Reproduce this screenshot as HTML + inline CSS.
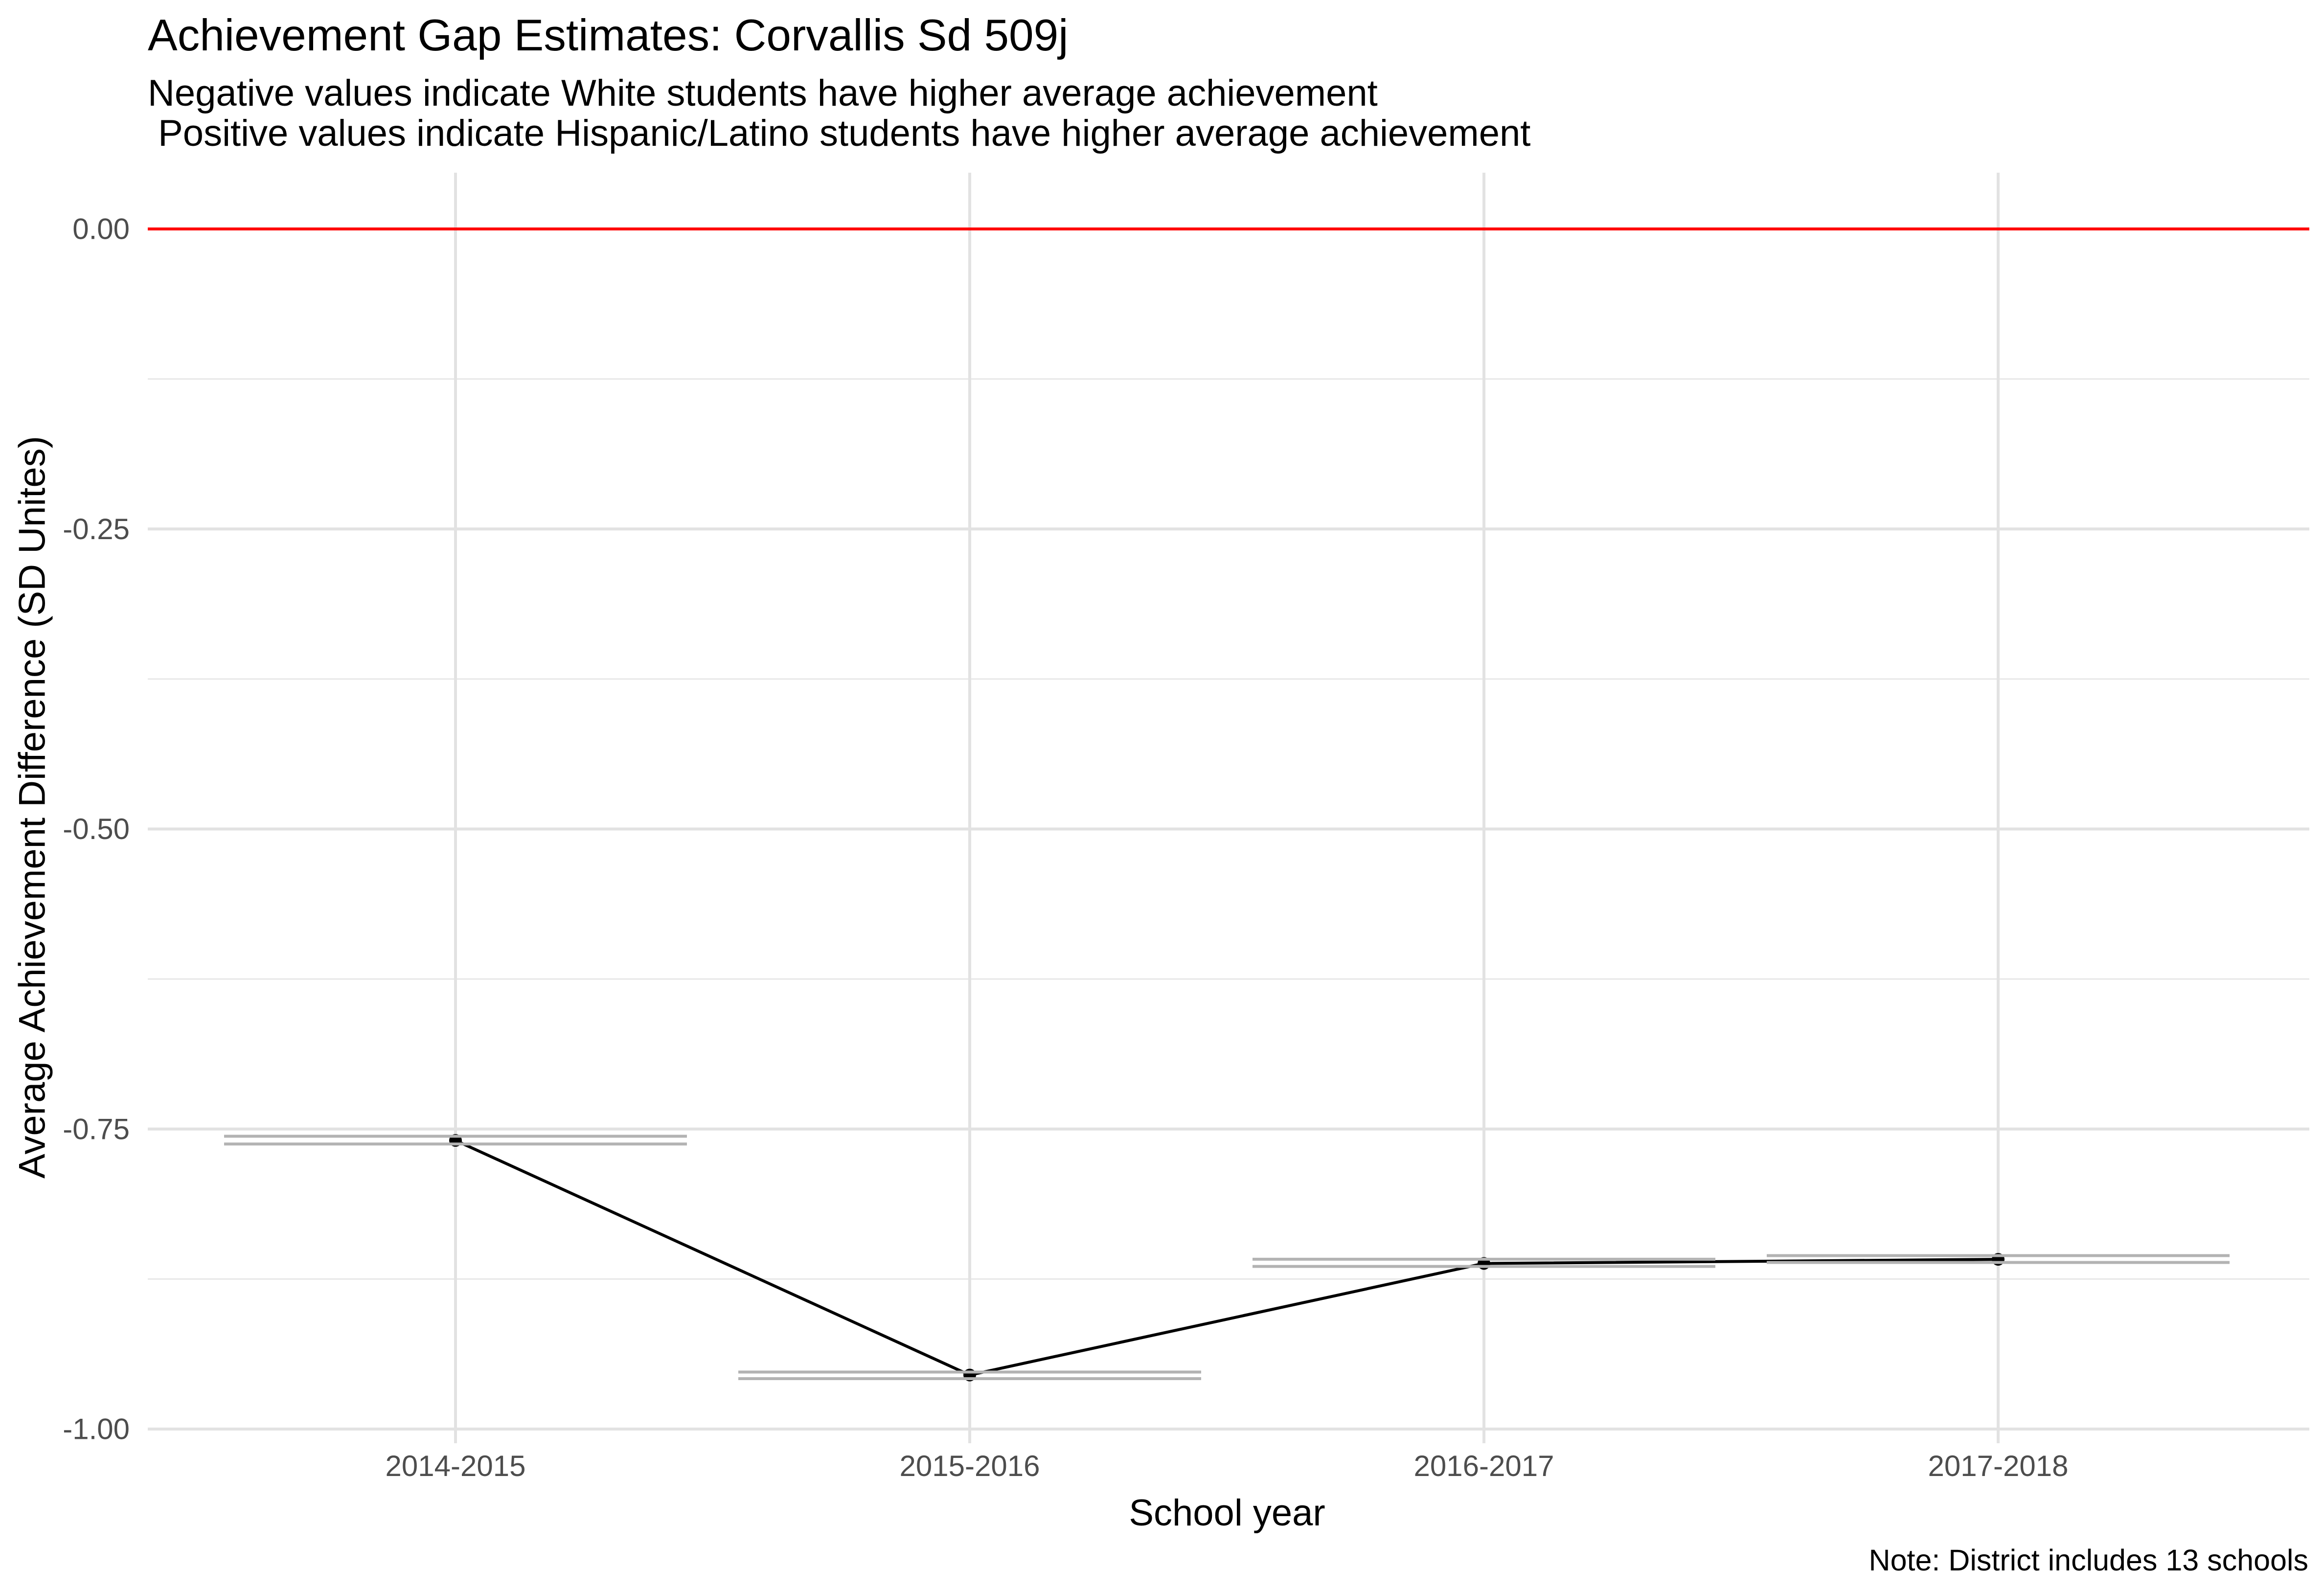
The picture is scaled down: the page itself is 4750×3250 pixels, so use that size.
<!DOCTYPE html>
<html><head><meta charset="utf-8">
<style>
html,body{margin:0;padding:0;background:#fff;}
svg{display:block;font-family:"Liberation Sans",Arial,sans-serif;}
</style></head>
<body>
<svg id="chart" width="4750" height="3250" viewBox="0 0 4750 3250" xmlns="http://www.w3.org/2000/svg">
<rect x="0" y="0" width="4750" height="3250" fill="#fff"/>
<text x="302" y="103" font-size="91" fill="#000">Achievement Gap Estimates: Corvallis Sd 509j</text>
<text x="302" y="216" font-size="76" fill="#000">Negative values indicate White students have higher average achievement</text>
<text x="302" y="298" font-size="76" fill="#000" xml:space="preserve"> Positive values indicate Hispanic/Latino students have higher average achievement</text>
<g id="grid"></g>
<g id="axes"></g>
<g id="marks"></g>
<text x="2508" y="3118" font-size="76" text-anchor="middle" fill="#000">School year</text>
<text transform="translate(66,1650) rotate(-90)" x="0" y="0" font-size="76" text-anchor="middle" dominant-baseline="central" fill="#000">Average Achievement Difference (SD Unites)</text>
<text x="4718" y="3210" font-size="61" text-anchor="end" fill="#000">Note: District includes 13 schools</text>
</svg>
<script>
const categories = ["2014-2015","2015-2016","2016-2017","2017-2018"];
const values = [-0.7595, -0.955, -0.862, -0.8586];
const upper = [-0.756, -0.9525, -0.8585, -0.8555];
const lower = [-0.7625, -0.958, -0.8645, -0.8612];
const yTicks = [0, -0.25, -0.5, -0.75, -1.0];
const yTickLabels = ["0.00","-0.25","-0.50","-0.75","-1.00"];
const yMinor = [-0.125, -0.375, -0.625, -0.875];

const NS = "http://www.w3.org/2000/svg";
const panel = {left: 302, right: 4720, top: 353, bottom: 2950};
const y0 = 468, yPerUnit = 2453;
function yScale(v){ return y0 - v * yPerUnit; }
const xStart = 931, xStep = 1051;
function xScale(i){ return xStart + i * xStep; }
function mk(tag, attrs, parent){
  const e = document.createElementNS(NS, tag);
  for (const k in attrs) e.setAttribute(k, attrs[k]);
  parent.appendChild(e);
  return e;
}
const grid = document.getElementById('grid');
const axes = document.getElementById('axes');
const marks = document.getElementById('marks');

yMinor.forEach(v => {
  const l = mk('line', {x1: panel.left, x2: panel.right, y1: yScale(v), y2: yScale(v), stroke: '#e8e8e8', 'stroke-width': 3}, grid);
  
  
});
yTicks.forEach((v, i) => {
  const l = mk('line', {x1: panel.left, x2: panel.right, y1: yScale(v), y2: yScale(v), stroke: '#e2e2e2', 'stroke-width': 6}, grid);
  
  
  const t = mk('text', {x: 265, y: yScale(v), 'font-size': 60, fill: '#4d4d4d', 'text-anchor': 'end', 'dominant-baseline': 'central'}, axes);
  t.textContent = yTickLabels[i];
  
  
});
categories.forEach((c, i) => {
  const l = mk('line', {x1: xScale(i), x2: xScale(i), y1: panel.top, y2: panel.bottom, stroke: '#e2e2e2', 'stroke-width': 6}, grid);
  
  
  const t = mk('text', {x: xScale(i), y: 3017, 'font-size': 60, fill: '#4d4d4d', 'text-anchor': 'middle'}, axes);
  t.textContent = c;
  
  
});

const zl = mk('line', {x1: panel.left, x2: panel.right, y1: yScale(0), y2: yScale(0), stroke: '#ff0000', 'stroke-width': 6}, marks);



const pts = values.map((v, i) => xScale(i) + ',' + yScale(v)).join(' ');
const pl = mk('polyline', {points: pts, fill: 'none', stroke: '#000', 'stroke-width': 6}, marks);


values.forEach((v, i) => {
  const p = mk('circle', {cx: xScale(i), cy: yScale(v), r: 13, fill: '#000'}, marks);
  
  
});
const halfW = 473;
categories.forEach((c, i) => {
  [upper[i], lower[i]].forEach(v => {
    const e = mk('line', {x1: xScale(i) - halfW, x2: xScale(i) + halfW, y1: yScale(v), y2: yScale(v), stroke: '#b3b3b3', 'stroke-width': 6}, marks);
    
    
  });
});
</script>
</body></html>
